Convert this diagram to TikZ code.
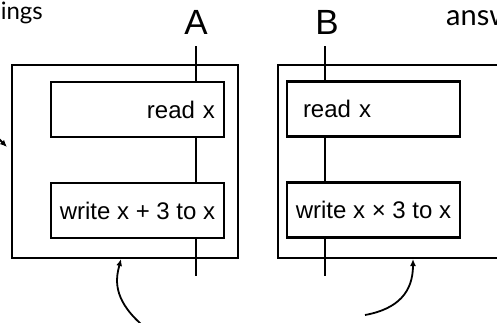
\documentclass[tikz,border=0pt]{standalone}
\usepackage{fontspec}
\setmainfont{Liberation Sans}
\newfontfamily\handfont{Lato}
\usetikzlibrary{arrows.meta}
\begin{document}
\begin{tikzpicture}[x=1pt,y=-1pt,
  frame/.style={draw,line width=2.6pt},
  opbox/.style={draw,fill=white,line width=2.6pt,rectangle,inner ysep=0pt,
    minimum width=173pt,minimum height=55pt,font=\fontsize{24}{26}\selectfont},
  thread/.style={line width=2.4pt},
  tname/.style={font=\fontsize{35}{38}\selectfont,inner sep=0pt},
  note/.style={font=\handfont\fontsize{24}{26}\selectfont,inner sep=0pt},
  pointer/.style={line width=1.8pt,-{Latex[length=7pt,width=6pt]}}]
\useasboundingbox (0,0) rectangle (497,322);
\clip (0,0) rectangle (497,322);

% side notes
\node[note,anchor=base east] (notel) at (43,19) {ings};
\node[note,anchor=base west,font=\handfont\fontsize{29}{31}\selectfont] (noter) at (446,25) {answ};

% cut-off pointer on the left edge
\coordinate (ptail) at (-4,136);
\coordinate (phead) at (7,147);
\draw[pointer] (ptail) -- (phead);

% ---- transaction A ----
\draw[frame] (12,65) rectangle (238,258);
\coordinate (Atop) at (196,46);
\coordinate (Abot) at (196,276);
\draw[thread] (Atop) -- (Abot);
\node[tname] (Alab) at (196,22.5) {A};
\node[opbox,inner xsep=9pt,text width=155pt,align=right] (Aread) at (137.5,109.5) {read x};
\node[opbox,inner xsep=0pt] (Awrite) at (137.5,210.5) {write x + 3 to x};

% ---- transaction B ----
\draw[frame] (278,65) rectangle (520,258);
\coordinate (Btop) at (325,46);
\coordinate (Bbot) at (325,276);
\draw[thread] (Btop) -- (Bbot);
\node[tname] (Blab) at (327,22.5) {B};
\node[opbox,inner xsep=16pt,text width=141pt,align=left] (Bread) at (373.5,109) {read x};
\node[opbox,inner xsep=0pt] (Bwrite) at (373.5,210) {write x × 3 to x};

% pointers to the frames
\coordinate (atail) at (141,324);
\coordinate (ahead) at (121,259);
\draw[pointer] (atail) .. controls (112,298) and (116,278) .. (ahead);
\coordinate (btail) at (365,315);
\coordinate (bhead) at (413,259);
\draw[pointer] (btail) .. controls (398,309) and (413,292) .. (bhead);
\end{tikzpicture}
\end{document}
